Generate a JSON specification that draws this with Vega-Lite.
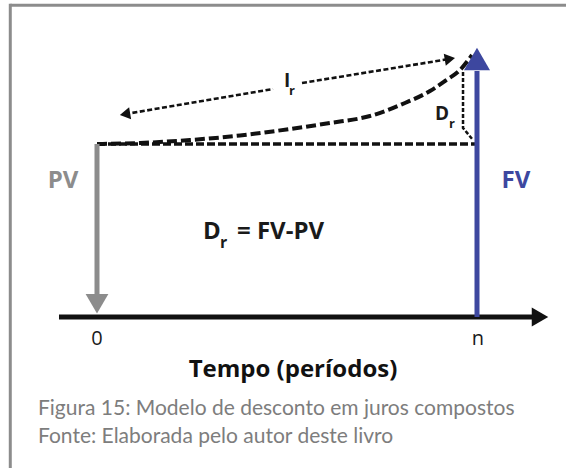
{
  "$schema": "https://vega.github.io/schema/vega-lite/v6.json",
  "width": 566,
  "height": 468,
  "autosize": {"type": "none"},
  "padding": 0,
  "background": "white",
  "config": {"view": {"stroke": null}},
  "datasets": {
    "border": [
      {"t1": -2.282, "t2": 12.6, "v1": 180.17, "v2": 180.17},
      {"t1": -2.282, "t2": -2.282, "v1": 181.0, "v2": -90}
    ],
    "shafts": [
      {"kind": "axis", "t1": -1.0, "t2": 11.45, "v1": 0, "v2": 0},
      {"kind": "PV", "t1": 0, "t2": 0, "v1": 100, "v2": 12.7},
      {"kind": "FV", "t1": 10, "t2": 10, "v1": 0, "v2": 142.2}
    ],
    "heads": [
      {"kind": "axis", "t": 11.658, "v": 0},
      {"kind": "PV", "t": 0, "v": 7.66},
      {"kind": "FV", "t": 10, "v": 149.1}
    ],
    "base": [{"t1": 0, "t2": 9.947, "v1": 100}],
    "curve": [
      {"t": 0, "v": 100},
      {"t": 1.132, "v": 100.58},
      {"t": 2.447, "v": 102.31},
      {"t": 3.763, "v": 104.91},
      {"t": 5.079, "v": 108.67},
      {"t": 6.132, "v": 112.14},
      {"t": 7.184, "v": 116.18},
      {"t": 8.105, "v": 123.7},
      {"t": 8.763, "v": 130.64},
      {"t": 9.158, "v": 136.42},
      {"t": 9.553, "v": 142.77},
      {"t": 9.868, "v": 151.45}
    ],
    "ir": [
      {"t1": 0.737, "v1": 117.28, "t2": 4.632, "v2": 131.79},
      {"t1": 5.395, "v1": 135.26, "t2": 9.287, "v2": 149.19}
    ],
    "irheads": [
      {"kind": "left", "t": 0.737, "v": 117.28},
      {"kind": "right", "t": 9.287, "v": 149.19}
    ],
    "dr": [
      {"o": 1, "t": 9.632, "v": 141.62},
      {"o": 2, "t": 9.632, "v": 109.25},
      {"o": 3, "t": 9.895, "v": 102.31}
    ],
    "pv": [{"label": "PV", "t": -0.895, "v": 74.57}],
    "fv": [{"label": "FV", "t": 11.026, "v": 74.57}],
    "eq": [
      {"label": "D", "t": 2.789, "v": 45.09},
      {"label": "= FV-PV", "t": 3.684, "v": 45.09}
    ],
    "eqsub": [{"label": "r", "t": 3.237, "v": 39.88}],
    "small": [
      {"label": "I", "t": 4.921, "v": 132.95},
      {"label": "D", "t": 8.895, "v": 113.87}
    ],
    "smallsub": [
      {"label": "r", "t": 5.053, "v": 128.32},
      {"label": "r", "t": 9.263, "v": 109.25}
    ],
    "ticks": [
      {"label": "0", "t": 0, "v": -16.18},
      {"label": "n", "t": 10.026, "v": -16.18}
    ],
    "xtitle": [{"label": "Tempo (períodos)", "t": 5.158, "v": -34.68}],
    "caption": [
      {"label": "Figura 15: Modelo de desconto em juros compostos", "t": -1.553, "v": -56.65},
      {"label": "Fonte: Elaborada pelo autor deste livro", "t": -1.553, "v": -72.83}
    ]
  },
  "layer": [
    {
      "data": {"name": "border"},
      "mark": {"type": "rule", "color": "#8c8c8c", "strokeWidth": 3},
      "encoding": {
        "x": {"field": "t1", "type": "quantitative", "scale": {"domain": [-2.5526, 12.3421], "nice": false, "zero": false}, "axis": null},
        "x2": {"field": "t2"},
        "y": {"field": "v1", "type": "quantitative", "scale": {"domain": [-87.283, 183.237], "nice": false, "zero": false}, "axis": null},
        "y2": {"field": "v2"}
      }
    },
    {
      "data": {"name": "base"},
      "mark": {"type": "rule", "color": "#111111", "strokeWidth": 3.5, "strokeDash": [8, 3]},
      "encoding": {
        "x": {"field": "t1", "type": "quantitative", "axis": null},
        "x2": {"field": "t2"},
        "y": {"field": "v1", "type": "quantitative", "axis": null}
      }
    },
    {
      "data": {"name": "curve"},
      "mark": {"type": "line", "color": "#111111", "strokeWidth": 4, "strokeDash": [10, 4], "interpolate": "monotone"},
      "encoding": {
        "x": {"field": "t", "type": "quantitative", "axis": null},
        "y": {"field": "v", "type": "quantitative", "axis": null}
      }
    },
    {
      "data": {"name": "ir"},
      "mark": {"type": "rule", "color": "#111111", "strokeWidth": 2.6, "strokeDash": [5, 2.5]},
      "encoding": {
        "x": {"field": "t1", "type": "quantitative", "axis": null},
        "x2": {"field": "t2"},
        "y": {"field": "v1", "type": "quantitative", "axis": null},
        "y2": {"field": "v2"}
      }
    },
    {
      "data": {"name": "irheads"},
      "mark": {"type": "point", "filled": true, "opacity": 1, "color": "#111111", "size": 144, "angle": 350.34, "strokeWidth": 0},
      "encoding": {
        "x": {"field": "t", "type": "quantitative", "axis": null},
        "y": {"field": "v", "type": "quantitative", "axis": null},
        "shape": {"field": "kind", "type": "nominal", "scale": {"domain": ["axis", "PV", "FV", "left", "right"], "range": ["triangle-right", "triangle-down", "triangle-up", "triangle-left", "triangle-right"]}, "legend": null}
      }
    },
    {
      "data": {"name": "dr"},
      "mark": {"type": "line", "color": "#111111", "strokeWidth": 2.5, "strokeDash": [4, 2]},
      "encoding": {
        "x": {"field": "t", "type": "quantitative", "axis": null},
        "y": {"field": "v", "type": "quantitative", "axis": null},
        "order": {"field": "o", "type": "quantitative"}
      }
    },
    {
      "data": {"name": "shafts"},
      "mark": {"type": "rule", "strokeCap": "butt"},
      "encoding": {
        "x": {"field": "t1", "type": "quantitative", "axis": null},
        "x2": {"field": "t2"},
        "y": {"field": "v1", "type": "quantitative", "axis": null},
        "y2": {"field": "v2"},
        "color": {"field": "kind", "type": "nominal", "scale": {"domain": ["axis", "PV", "FV"], "range": ["#111111", "#8c8c8c", "#3d479f"]}, "legend": null},
        "strokeWidth": {"field": "kind", "type": "nominal", "scale": {"domain": ["axis", "PV", "FV"], "range": [5, 5, 6]}, "legend": null}
      }
    },
    {
      "data": {"name": "heads"},
      "mark": {"type": "point", "filled": true, "opacity": 1, "strokeWidth": 0},
      "encoding": {
        "x": {"field": "t", "type": "quantitative", "axis": null},
        "y": {"field": "v", "type": "quantitative", "axis": null},
        "color": {"field": "kind", "type": "nominal", "scale": {"domain": ["axis", "PV", "FV"], "range": ["#111111", "#8c8c8c", "#3d479f"]}, "legend": null},
        "shape": {"field": "kind", "type": "nominal", "scale": {"domain": ["axis", "PV", "FV", "left", "right"], "range": ["triangle-right", "triangle-down", "triangle-up", "triangle-left", "triangle-right"]}, "legend": null},
        "size": {"field": "kind", "type": "nominal", "scale": {"domain": ["axis", "PV", "FV"], "range": [361, 676, 784]}, "legend": null}
      }
    },
    {
      "data": {"name": "pv"},
      "mark": {"type": "text", "font": "Open Sans", "fontWeight": "bold", "fontSize": 24, "color": "#8c8c8c", "align": "center", "baseline": "alphabetic"},
      "encoding": {
        "x": {"field": "t", "type": "quantitative", "axis": null},
        "y": {"field": "v", "type": "quantitative", "axis": null},
        "text": {"field": "label"}
      }
    },
    {
      "data": {"name": "fv"},
      "mark": {"type": "text", "font": "Open Sans", "fontWeight": "bold", "fontSize": 24, "color": "#3d479f", "align": "center", "baseline": "alphabetic"},
      "encoding": {
        "x": {"field": "t", "type": "quantitative", "axis": null},
        "y": {"field": "v", "type": "quantitative", "axis": null},
        "text": {"field": "label"}
      }
    },
    {
      "data": {"name": "eq"},
      "mark": {"type": "text", "font": "Open Sans", "fontWeight": "bold", "fontSize": 24, "color": "#1a1a1a", "align": "left", "baseline": "alphabetic"},
      "encoding": {
        "x": {"field": "t", "type": "quantitative", "axis": null},
        "y": {"field": "v", "type": "quantitative", "axis": null},
        "text": {"field": "label"}
      }
    },
    {
      "data": {"name": "eqsub"},
      "mark": {"type": "text", "font": "Open Sans", "fontWeight": "bold", "fontSize": 16, "color": "#1a1a1a", "align": "left", "baseline": "alphabetic"},
      "encoding": {
        "x": {"field": "t", "type": "quantitative", "axis": null},
        "y": {"field": "v", "type": "quantitative", "axis": null},
        "text": {"field": "label"}
      }
    },
    {
      "data": {"name": "small"},
      "mark": {"type": "text", "font": "Open Sans", "fontWeight": "bold", "fontSize": 19, "color": "#1a1a1a", "align": "left", "baseline": "alphabetic"},
      "encoding": {
        "x": {"field": "t", "type": "quantitative", "axis": null},
        "y": {"field": "v", "type": "quantitative", "axis": null},
        "text": {"field": "label"}
      }
    },
    {
      "data": {"name": "smallsub"},
      "mark": {"type": "text", "font": "Open Sans", "fontWeight": "bold", "fontSize": 13, "color": "#1a1a1a", "align": "left", "baseline": "alphabetic"},
      "encoding": {
        "x": {"field": "t", "type": "quantitative", "axis": null},
        "y": {"field": "v", "type": "quantitative", "axis": null},
        "text": {"field": "label"}
      }
    },
    {
      "data": {"name": "ticks"},
      "mark": {"type": "text", "font": "Open Sans", "fontSize": 20, "color": "#1a1a1a", "align": "center", "baseline": "alphabetic"},
      "encoding": {
        "x": {"field": "t", "type": "quantitative", "axis": null},
        "y": {"field": "v", "type": "quantitative", "axis": null},
        "text": {"field": "label"}
      }
    },
    {
      "data": {"name": "xtitle"},
      "mark": {"type": "text", "font": "Open Sans", "fontWeight": "bold", "fontSize": 24, "color": "#111111", "align": "center", "baseline": "alphabetic"},
      "encoding": {
        "x": {"field": "t", "type": "quantitative", "axis": null},
        "y": {"field": "v", "type": "quantitative", "axis": null},
        "text": {"field": "label"}
      }
    },
    {
      "data": {"name": "caption"},
      "mark": {"type": "text", "font": "Lato", "fontSize": 21, "color": "#7d7d7d", "align": "left", "baseline": "alphabetic"},
      "encoding": {
        "x": {"field": "t", "type": "quantitative", "axis": null},
        "y": {"field": "v", "type": "quantitative", "axis": null},
        "text": {"field": "label"}
      }
    }
  ]
}
